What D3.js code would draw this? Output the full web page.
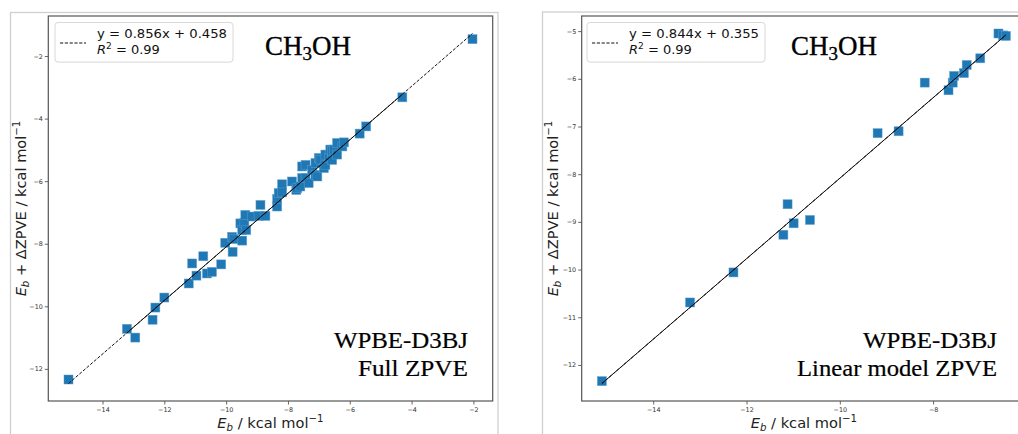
<!DOCTYPE html>
<html>
<head>
<meta charset="utf-8">
<script src="https://cdn.jsdelivr.net/npm/d3@7"></script>
<style>
  body { margin: 0; background: #fff; }
  svg { display: block; }
</style>
</head>
<body>
<svg id="chart" width="1018" height="434"></svg>
<script>
// CH3OH binding energies (kcal/mol): E_b against E_b + ΔZPVE, WPBE-D3BJ

// Full ZPVE set
const fullEb = [
  -15.10, -13.21, -12.94, -12.38, -12.29, -12.00, -11.21, -11.10, -10.96, -10.74,
  -10.62, -10.46, -10.16, -10.03, -9.81, -9.76, -9.79, -9.48, -9.54, -9.48,
  -9.41, -9.35, -9.38, -9.16, -8.95, -8.89, -8.73, -8.35, -8.35, -8.30,
  -8.19, -8.19, -7.87, -7.73, -7.70, -7.60, -7.54, -7.54, -7.43, -7.43,
  -7.33, -7.22, -7.11, -7.11, -7.05, -7.00, -6.95, -6.84, -6.79, -6.79,
  -6.68, -6.63, -6.57, -6.57, -6.52, -6.41, -6.41, -6.24, -6.19, -5.68,
  -5.47, -4.30, -2.03
];
const fullEbZpve = [
  -12.34, -10.72, -11.00, -10.43, -10.04, -9.72, -9.27, -8.63, -9.02, -8.40,
  -8.95, -8.90, -8.66, -7.97, -7.78, -7.85, -8.26, -7.90, -7.35, -7.56,
  -7.33, -7.56, -7.08, -7.13, -7.11, -6.76, -7.11, -6.81, -6.57, -6.38,
  -6.10, -6.36, -6.01, -6.28, -6.22, -6.17, -5.90, -5.53, -5.48, -5.90,
  -6.06, -5.64, -5.42, -5.80, -5.85, -5.26, -5.32, -5.58, -5.48, -5.15,
  -5.26, -4.99, -5.05, -5.32, -4.99, -5.15, -4.78, -4.89, -4.76, -4.48,
  -4.25, -3.32, -1.46
];

// Linear model ZPVE set
const linEb = [
  -15.10, -13.21, -12.28, -11.21, -11.12, -10.99, -10.64, -9.19, -8.74, -8.18,
  -7.67, -7.58, -7.55, -7.34, -7.28, -6.99, -6.60, -6.50, -6.44
];
const linEbZpve = [
  -12.34, -10.69, -10.06, -9.27, -8.63, -9.03, -8.96, -7.14, -7.10, -6.08,
  -6.24, -6.08, -5.94, -5.88, -5.71, -5.57, -5.05, -5.09, -5.10
];

// Linear fits [slope, intercept] and the span drawn as a solid line
const fullFit = [0.856, 0.458];
const linFit = [0.844, 0.355];
const fullSolidSpan = [-13.21, -4.30];
const linSolidSpan = [-15.10, -6.44];

// Tick values
const fullTicksX = [-14, -12, -10, -8, -6, -4, -2];
const fullTicksY = [-12, -10, -8, -6, -4, -2];
const linTicksX = [-14, -12, -10, -8];
const linTicksY = [-12, -11, -10, -9, -8, -7, -6, -5];

// Labels
const fullFitLabel = "y = 0.856x + 0.458";
const linFitLabel = "y = 0.844x + 0.355";
const r2Label = " = 0.99";
const moleculeLabel = ["CH", "3", "OH"];
const fullMethodLines = ["WPBE-D3BJ", "Full ZPVE"];
const linMethodLines = ["WPBE-D3BJ", "Linear model ZPVE"];

const svg = d3.select("#chart");
const MARKER = "#1f77b4";
const SANS = "DejaVu Sans, sans-serif";
const SERIF = "Liberation Serif, Times New Roman, serif";
const AX_W = 444.4, AX_H = 385, AX_TOP = 16;

function paddedDomain(lo, hi) {
  const m = (hi - lo) * 0.05;
  return [lo - m, hi + m];
}

function drawPanel(cfg) {
  // outer figure frame
  svg.append("rect")
    .attr("x", cfg.frameX).attr("y", cfg.frameY)
    .attr("width", cfg.frameW).attr("height", 500)
    .attr("fill", "none").attr("stroke", "#cfcfcf").attr("stroke-width", 1.3);

  const g = svg.append("g").attr("transform", `translate(${cfg.left},${AX_TOP})`);

  const [xLo, xHi] = d3.extent(cfg.xs);
  const fitAt = v => cfg.fit[0] * v + cfg.fit[1];
  const yVals = cfg.ys.concat([fitAt(xLo), fitAt(xHi)]);
  const [yLo, yHi] = d3.extent(yVals);

  const x = d3.scaleLinear().domain(paddedDomain(xLo, xHi)).range([0, AX_W]);
  const y = d3.scaleLinear().domain(paddedDomain(yLo, yHi)).range([AX_H, 0]);

  // axes
  const xAxis = g.append("g").attr("transform", `translate(0,${AX_H})`)
    .call(d3.axisBottom(x).tickValues(cfg.ticksX).tickSize(3.5).tickPadding(2.5).tickSizeOuter(0));
  const yAxis = g.append("g")
    .call(d3.axisLeft(y).tickValues(cfg.ticksY).tickSize(3.5).tickPadding(2).tickSizeOuter(0));
  [xAxis, yAxis].forEach(a => {
    a.select(".domain").remove();
    a.selectAll(".tick line").attr("stroke", "#555").attr("stroke-width", 0.9);
    a.selectAll(".tick text").attr("fill", "#333").attr("font-size", 6.4).attr("font-family", SANS);
  });

  // spines
  g.append("rect").attr("width", AX_W).attr("height", AX_H)
    .attr("fill", "none").attr("stroke", "#555").attr("stroke-width", 1.2);

  const plot = g.append("g");

  // scatter markers
  const S = 9;
  plot.selectAll("rect.pt").data(cfg.xs.map((v, i) => [v, cfg.ys[i]]))
    .join("rect").attr("class", "pt")
    .attr("x", d => x(d[0]) - S / 2).attr("y", d => y(d[1]) - S / 2)
    .attr("width", S).attr("height", S)
    .attr("fill", MARKER)
    .attr("stroke", "#5b9fd0").attr("stroke-width", 0.6).attr("stroke-opacity", 0.8);

  // fit line: dashed over full range, solid over the inner span
  const line = d3.line().x(d => x(d)).y(d => y(fitAt(d)));
  plot.append("path").attr("d", line([xLo, xHi]))
    .attr("fill", "none").attr("stroke", "#111").attr("stroke-width", 1)
    .attr("stroke-dasharray", "3.2,1.6");
  plot.append("path").attr("d", line(cfg.solidSpan))
    .attr("fill", "none").attr("stroke", "#111").attr("stroke-width", 1);

  // legend
  const lg = g.append("g").attr("transform", `translate(${cfg.legendX},6.5)`);
  lg.append("rect").attr("width", 178).attr("height", 39.6).attr("rx", 3)
    .attr("fill", "#fff").attr("fill-opacity", 0.85)
    .attr("stroke", "#d8d8d8").attr("stroke-width", 1);
  lg.append("line").attr("x1", 5).attr("x2", 31).attr("y1", 20.5).attr("y2", 20.5)
    .attr("stroke", "#111").attr("stroke-width", 1).attr("stroke-dasharray", "3.2,1.6");
  lg.append("text").attr("x", 42).attr("y", 15)
    .attr("font-family", SANS).attr("font-size", 13).attr("fill", "#111")
    .attr("textLength", 130).attr("lengthAdjust", "spacingAndGlyphs")
    .text(cfg.fitLabel);
  const r2 = lg.append("text").attr("x", 42).attr("y", 31.5)
    .attr("font-family", SANS).attr("font-size", 13).attr("fill", "#111");
  r2.append("tspan").attr("font-style", "italic").text("R");
  r2.append("tspan").attr("font-size", 9).attr("dy", -5.5).text("2");
  r2.append("tspan").attr("dy", 5.5).text(r2Label);

  // molecule name
  const mol = g.append("text").attr("x", cfg.molX).attr("y", 39)
    .attr("text-anchor", "middle")
    .attr("font-family", SERIF).attr("font-size", 27).attr("fill", "#000")
    .attr("stroke", "#000").attr("stroke-width", 0.35)
    .attr("textLength", 86).attr("lengthAdjust", "spacingAndGlyphs");
  mol.append("tspan").text(moleculeLabel[0]);
  mol.append("tspan").attr("font-size", 19).attr("dy", 5).text(moleculeLabel[1]);
  mol.append("tspan").attr("dy", -5).text(moleculeLabel[2]);

  // method description, right aligned
  cfg.methodLines.forEach((t, i) => {
    g.append("text").attr("x", cfg.methodX).attr("y", 332 + i * 28)
      .attr("text-anchor", "end")
      .attr("font-family", SERIF).attr("font-size", 22.5).attr("fill", "#000")
      .attr("stroke", "#000").attr("stroke-width", 0.2)
      .attr("textLength", cfg.methodW[i]).attr("lengthAdjust", "spacingAndGlyphs")
      .text(t);
  });

  // x axis label
  const xl = g.append("text").attr("x", AX_W / 2).attr("y", 412)
    .attr("text-anchor", "middle")
    .attr("font-family", SANS).attr("font-size", 14.6).attr("fill", "#222");
  xl.append("tspan").attr("font-style", "italic").text("E");
  xl.append("tspan").attr("font-style", "italic").attr("font-size", 10.2).attr("dy", 3).text("b");
  xl.append("tspan").attr("dy", -3).text(" / kcal mol");
  xl.append("tspan").attr("font-size", 10.2).attr("dy", -6).text("\u22121");

  // y axis label
  const yl = g.append("text")
    .attr("transform", `translate(${cfg.yLabelX},${AX_H / 2}) rotate(-90)`)
    .attr("text-anchor", "middle")
    .attr("font-family", SANS).attr("font-size", 14.6).attr("fill", "#222");
  yl.append("tspan").attr("font-style", "italic").text("E");
  yl.append("tspan").attr("font-style", "italic").attr("font-size", 10.2).attr("dy", 3).text("b");
  yl.append("tspan").attr("dy", -3).text(" + \u0394ZPVE / kcal mol");
  yl.append("tspan").attr("font-size", 10.2).attr("dy", -6).text("\u22121");
}

drawPanel({
  xs: fullEb, ys: fullEbZpve, fit: fullFit, solidSpan: fullSolidSpan,
  ticksX: fullTicksX, ticksY: fullTicksY,
  fitLabel: fullFitLabel, methodLines: fullMethodLines, methodW: [134, 110],
  left: 48.3, frameX: 10.5, frameY: 12.5, frameW: 487.5,
  legendX: 6.7, molX: 259.7, methodX: 419.7, yLabelX: -22.5
});

drawPanel({
  xs: linEb, ys: linEbZpve, fit: linFit, solidSpan: linSolidSpan,
  ticksX: linTicksX, ticksY: linTicksY,
  fitLabel: linFitLabel, methodLines: linMethodLines, methodW: [134, 200],
  left: 581.7, frameX: 542.5, frameY: 12, frameW: 600,
  legendX: 5.3, molX: 252.3, methodX: 415.3, yLabelX: -23.5
});
</script>
</body>
</html>
